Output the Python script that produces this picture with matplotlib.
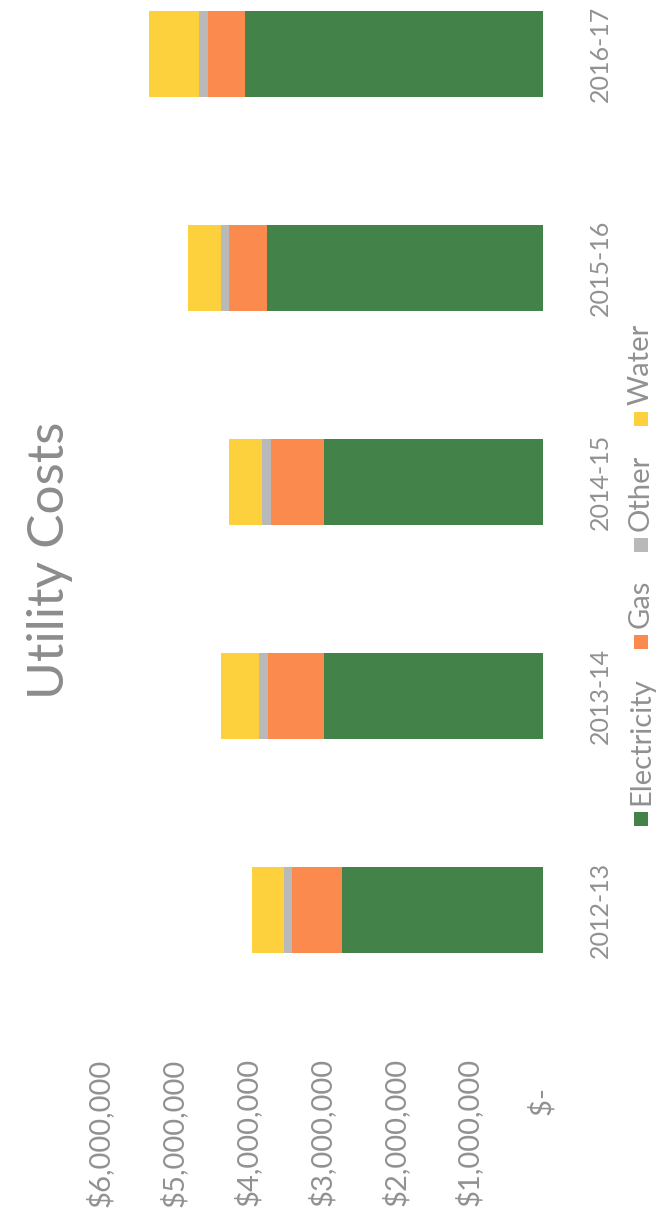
import matplotlib
matplotlib.use('Agg')
import matplotlib.pyplot as plt
from matplotlib.patches import Rectangle

# utility spend per fiscal year, stacked by type
years = ['2012-13', '2013-14', '2014-15', '2015-16', '2016-17']
electricity = [2720000, 2970000, 2960000, 3740000, 4030000]
gas = [680000, 750000, 720000, 510000, 510000]
other = [100000, 120000, 120000, 110000, 120000]
water = [440000, 520000, 450000, 450000, 670000]

series = ['Electricity', 'Gas', 'Other', 'Water']
values = [electricity, gas, other, water]
colors = ['#43834a', '#fb8a4e', '#b9b9b9', '#fdd13e']
value_ticks = [0, 1000000, 2000000, 3000000, 4000000, 5000000, 6000000]

W, H = 657, 1216
grey = '#919191'
plt.rcParams['font.family'] = ['Lato', 'DejaVu Sans']

fig = plt.figure(figsize=(W / 100, H / 100), dpi=100)


def px_box(left, top, right, bottom):
    return [left / W, 1 - bottom / H, (right - left) / W, (bottom - top) / H]


# chart is laid out turned on its side: values run right-to-left
ax = fig.add_axes(px_box(80, 0, 565, 1050))
left = [0] * len(years)
for name, vals, col in zip(series, values, colors):
    ax.barh(range(len(years)), vals, left=left, height=0.40, color=col, label=name)
    left = [a + b for a, b in zip(left, vals)]

ax.set_xlim(6.27e6, -0.30e6)
ax.set_ylim(-0.654, 4.252)
for s in ax.spines.values():
    s.set_visible(False)

def money(v):
    return '$-' + ' ' * 4 if v == 0 else '${:,.0f}'.format(v)

ax.set_xticks(value_ticks, [money(v) for v in value_ticks], rotation=90)
ax.tick_params(axis='x', length=0, pad=6, labelsize=21, labelcolor=grey)

ax.yaxis.tick_right()
ax.set_yticks(range(len(years)), years, rotation=90, va='center')
ax.tick_params(axis='y', length=0, pad=17, labelsize=18, labelcolor=grey)

# overlay in pixel units for title and legend
ov = fig.add_axes([0, 0, 1, 1])
ov.set_xlim(0, W)
ov.set_ylim(H, 0)
ov.axis('off')
ov.patch.set_alpha(0)

ov.text(50, 560, 'Utility Costs', rotation=90, ha='center', va='center',
        fontsize=37, color='#8c8c8c')

# legend entries stacked bottom to top
fig.canvas.draw()
renderer = fig.canvas.get_renderer()
entries = []
mk, gap_in, gap_out = 14, 7, 28
total = 0
for name in series:
    t = ov.text(0, 0, name, rotation=90, fontsize=21, color=grey,
                ha='center', va='bottom')
    bb = t.get_window_extent(renderer)
    entries.append((t, bb.height))
    total += mk + gap_in + bb.height
total += gap_out * (len(series) - 1)
y = 575 + total / 2
lx = 641
for (t, h), col in zip(entries, colors):
    ov.add_patch(Rectangle((lx - mk / 2, y - mk), mk, mk, color=col, lw=0))
    y -= mk + gap_in
    t.set_position((lx, y))
    y -= h + gap_out

fig.savefig('out.png', dpi=100, facecolor='white')
